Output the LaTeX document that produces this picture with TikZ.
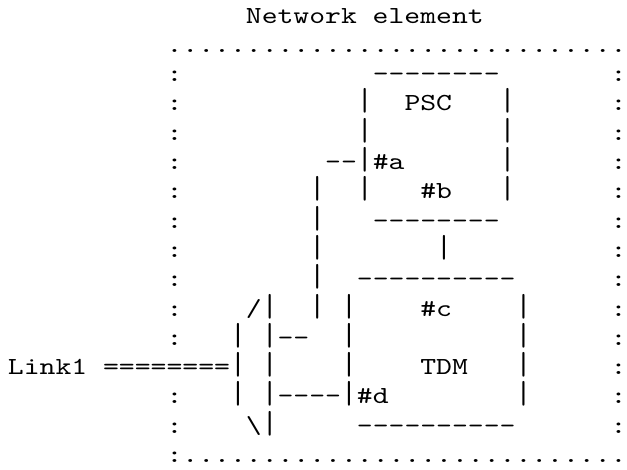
\documentclass[tikz,border=0pt]{standalone}
\usepackage{graphicx}
\usepackage{fontspec}
\setmonofont{lmmono10-regular.otf}[FakeStretch=1.233]
\newcommand\vb{\scalebox{1}[1.3]{|}}
\begin{document}
\begin{tikzpicture}[x=15.86pt,y=-29.3pt,
asc/.style={font=\ttfamily\fontsize{24.5pt}{29.3pt}\selectfont,inner sep=0pt,outer sep=0pt,anchor=base west}
]
\useasboundingbox (-8pt,23pt) rectangle ++(627pt,-469pt);
% network element frame
\node[asc] (title) at (15,0) {Network element};
\node[asc] (netop) at (10,1) {.............................};
\foreach \r in {2,...,11,13,14} \node[asc] (nel\r) at (10,\r) {:};
\foreach \r in {2,...,14} \node[asc] (ner\r) at (38,\r) {:};
\node[asc] (nebot) at (10,15) {:............................};
% PSC
\node[asc] (psctop) at (23,2) {--------};
\foreach \r in {3,...,6} {\node[asc] (pscl\r) at (22,\r) {\vb}; \node[asc] (pscr\r) at (31,\r) {\vb};}
\node[asc] (psc) at (25,3) {PSC};
\node[asc] (pa) at (23,5) {\#a};
\node[asc] (pb) at (26,6) {\#b};
\node[asc] (pscbot) at (23,7) {--------};
\node[asc] (psctdm) at (27,8) {\vb};
% TDM
\node[asc] (tdmtop) at (22,9) {----------};
\foreach \r in {10,...,13} {\node[asc] (tdml\r) at (21,\r) {\vb}; \node[asc] (tdmr\r) at (32,\r) {\vb};}
\node[asc] (pc) at (26,10) {\#c};
\node[asc] (tdm) at (26,12) {TDM};
\node[asc] (pd) at (22,13) {\#d};
\node[asc] (tdmbot) at (22,14) {----------};
% wire to #a
\node[asc] (wa) at (20,5) {--};
\foreach \r in {6,...,10} \node[asc] (wa\r) at (19,\r) {\vb};
% demux
\node[asc] (dmtop) at (15,10) {/};
\foreach \r in {10,...,14} \node[asc] (dmr\r) at (16,\r) {\vb};
\foreach \r in {11,...,13} \node[asc] (dml\r) at (14,\r) {\vb};
\node[asc] (dmbot) at (15,14) {\textbackslash};
\node[asc] (wc) at (17,11) {--};
\node[asc] (wd) at (17,13) {----};
% link
\node[asc] (link) at (0,12) {Link1 ========};
\end{tikzpicture}
\end{document}
